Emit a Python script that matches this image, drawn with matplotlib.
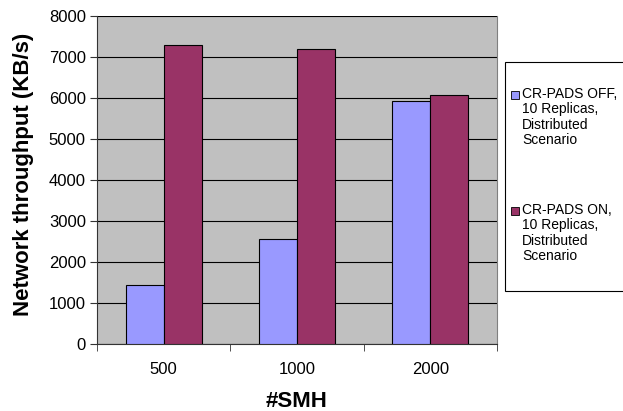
import matplotlib
matplotlib.use("Agg")
import matplotlib.pyplot as plt
import numpy as np
from matplotlib.patches import Rectangle

plt.rcParams['font.family'] = ['Liberation Sans', 'DejaVu Sans']

categories = ["500", "1000", "2000"]
series_names = ["CR-PADS OFF,\n10 Replicas,\nDistributed\nScenario",
                "CR-PADS ON,\n10 Replicas,\nDistributed\nScenario"]
off_values = [1450, 2570, 5930]
on_values = [7300, 7200, 6070]
colors = ["#9999FF", "#993366"]

W, H = 623, 411
fig = plt.figure(figsize=(W/100, H/100), dpi=100)
ax = fig.add_axes([97/W, (H-344)/H, 400/W, 328/H])
ax.set_facecolor("#C0C0C0")

x = np.arange(len(categories))
w = 0.285
ax.bar(x - w/2, off_values, w, color=colors[0], edgecolor="black", linewidth=0.8, zorder=3)
ax.bar(x + w/2, on_values, w, color=colors[1], edgecolor="black", linewidth=0.8, zorder=3)

ax.set_xlim(-0.5, len(categories) - 0.5)
ax.set_ylim(0, 8000)
ax.set_yticks(np.arange(0, 8001, 1000))
ax.yaxis.grid(True, color="black", linewidth=0.8, zorder=1)
ax.set_axisbelow(True)

ax.set_xticks(x)
ax.set_xticklabels(categories)
ax.tick_params(axis="x", which="major", length=0, pad=13, labelsize=12)
ax.set_xticks(np.arange(-0.5, len(categories), 1.0), minor=True)
ax.tick_params(axis="x", which="minor", length=5, direction="out", color="#333333")
ax.tick_params(axis="y", length=5, direction="out", labelsize=12, pad=3, color="#333333")

ax.spines["top"].set_visible(False)
ax.spines["right"].set_color("#808080")
ax.spines["left"].set_color("#333333")
ax.spines["bottom"].set_color("#333333")

fig.text(24/W, (H-174)/H, "Network throughput (KB/s)", fontsize=16, fontweight="bold",
         rotation=90, ha="center", va="center")
fig.text(297/W, (H-401)/H, "#SMH", fontsize=16, fontweight="bold", ha="center", va="center")

# Legend frame
fig.patches.append(Rectangle((505/W, (H-291)/H), 120/W, 229/H, transform=fig.transFigure,
                             facecolor="white", edgecolor="black", linewidth=0.8))
ypos = [95, 211]
for name, c, yp in zip(series_names, colors, ypos):
    fig.patches.append(Rectangle((511/W, (H-yp-4)/H), 8/W, 8/H, transform=fig.transFigure,
                                 facecolor=c, edgecolor="black", linewidth=0.6))
    fig.text(522/W, (H-yp+8)/H, name, fontsize=10, va="top", ha="left", linespacing=1.12)

fig.savefig("out.png", dpi=100)
